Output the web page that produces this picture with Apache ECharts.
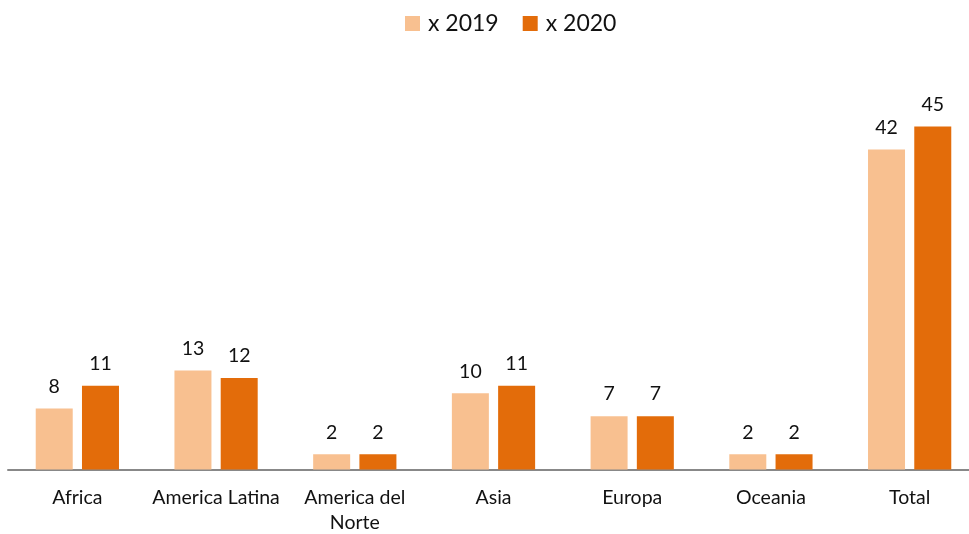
<!DOCTYPE html>
<html>
<head>
<meta charset="utf-8">
<script src="https://cdn.jsdelivr.net/npm/echarts@6/dist/echarts.min.js"></script>
<style>
  html, body { margin: 0; padding: 0; background: #fff; }
  #chart { width: 969px; height: 534px; }
</style>
</head>
<body>
<div id="chart"></div>
<script>
const categories = ['Africa', 'America Latina', 'America del\nNorte', 'Asia', 'Europa', 'Oceania', 'Total'];
const values2019 = [8, 13, 2, 10, 7, 2, 42];
const values2020 = [11, 12, 2, 11, 7, 2, 45];

const font = 'Lato, "Open Sans", sans-serif';

const chart = echarts.init(document.getElementById('chart'));
chart.setOption({
  backgroundColor: '#fff',
  animation: false,
  legend: {
    top: 7,
    left: 400,
    itemWidth: 15,
    itemHeight: 15,
    itemGap: 24,
    icon: 'rect',
    textStyle: { fontFamily: font, fontSize: 23, color: '#111', padding: [0, 0, 0, 3] },
    data: ['x 2019', 'x 2020']
  },
  // plot area runs past the right edge of the canvas, as in the original
  grid: { left: 8, width: 971, top: 88.5, height: 381, containLabel: false, outerBoundsMode: 'none' },
  xAxis: {
    type: 'category',
    data: categories,
    axisLine: { lineStyle: { color: '#888', width: 2 } },
    axisTick: { show: false },
    axisLabel: { fontFamily: font, fontSize: 19.5, color: '#111', margin: 16, lineHeight: 25, interval: 0 }
  },
  yAxis: {
    type: 'value',
    min: 0,
    max: 50,
    show: false,
    splitLine: { show: false }
  },
  series: [
    {
      name: 'x 2019',
      type: 'bar',
      data: values2019,
      barWidth: 37,
      barGap: '25%',
      itemStyle: { color: '#F8C090' },
      label: { show: true, position: 'top', distance: 12, fontFamily: font, fontSize: 19.5, color: '#111' }
    },
    {
      name: 'x 2020',
      type: 'bar',
      data: values2020,
      barWidth: 37,
      barGap: '25%',
      itemStyle: { color: '#E36C0A' },
      label: { show: true, position: 'top', distance: 12, fontFamily: font, fontSize: 19.5, color: '#111' }
    }
  ]
});
</script>
</body>
</html>
